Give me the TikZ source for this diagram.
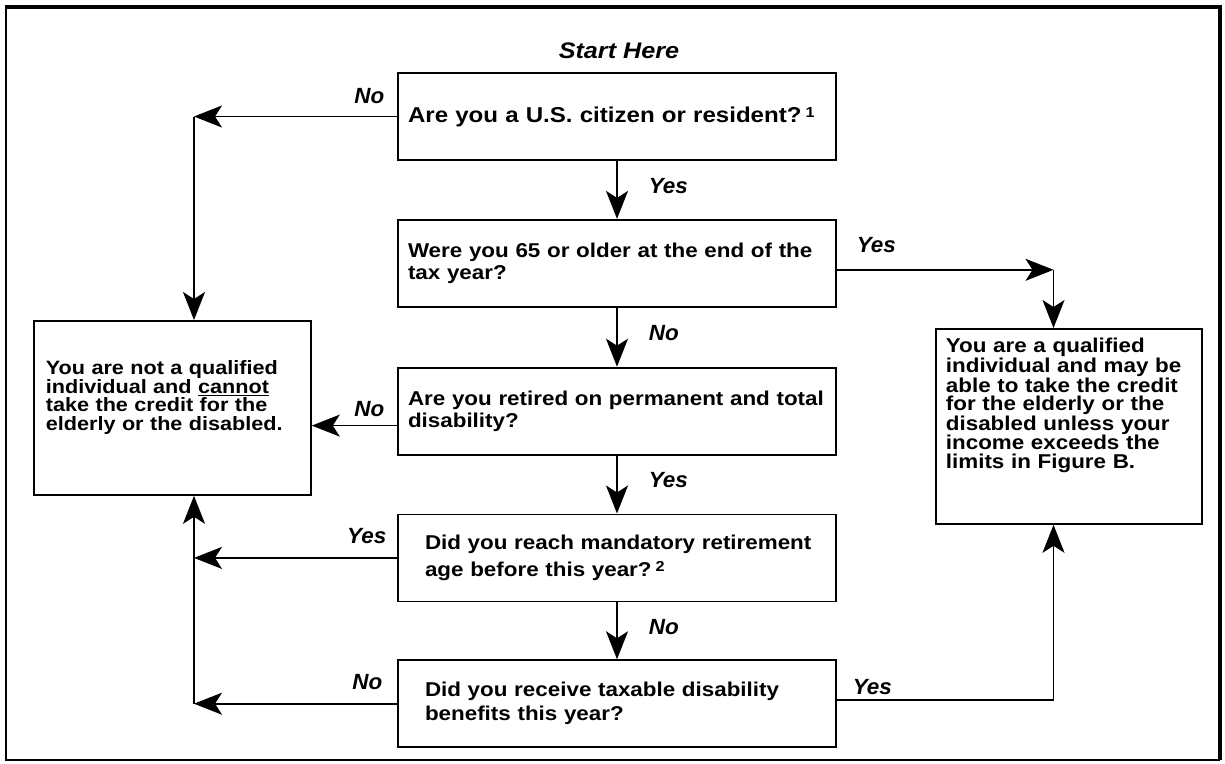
\documentclass[tikz,border=0pt]{standalone}
\usepackage{fontspec}
\newfontfamily\chartfont{Liberation Sans}[FakeStretch=1.12]
\newfontfamily\answerfont{Liberation Sans}[FakeStretch=1.02]
\usetikzlibrary{positioning, arrows.meta}
\newcommand{\fnref}[1]{\hspace{4pt}\raisebox{5pt}{\fontsize{14.5}{14.5}\selectfont #1}}
\tikzset{
    x=1pt, y=-1pt, % picture pixels, y runs downwards
    node distance=58pt, % gap between two question boxes
    question/.style={ % the boxes of the middle column
        draw, line width=1.8pt,
        minimum width=438pt, minimum height=87pt,
        inner xsep=10pt, text width=418pt, align=left,
        font=\chartfont\bfseries\fontsize{20}{22}\selectfont
    },
    verdict/.style={ % the two outcome boxes
        draw, line width=1.8pt, align=left,
        anchor=north west, text height=14pt,
        font=\chartfont\bfseries\fontsize{20}{18.5}\selectfont
    },
    answer/.style={ % Yes / No next to the arrows
        inner sep=0pt,
        font=\answerfont\bfseries\itshape\fontsize{22}{22}\selectfont
    },
    flow/.style={ % the connectors
        ->, >={Stealth[length=28pt,width=22pt,inset=7pt]},
        line width=1.7pt
    }
}
\begin{document}
\begin{tikzpicture}
    \useasboundingbox (0,0) rectangle (1225,763);
    % frame
    \draw[line width=1.5pt] (1220,760) -- (6,760) -- (6,7);
    \draw[line width=4pt] (5,7) -- (1220,7) -- (1220,760);

    % middle column
    \node[answer, anchor=base, font=\chartfont\bfseries\itshape\fontsize{22.5}{22.5}\selectfont]
                                    (start) at (619,58) {Start Here};
    \node[question, font=\chartfont\bfseries\fontsize{21.5}{22}\selectfont]
                                    (q1) at (617,116.5)
        {Are you a U.S. citizen or resident?\fnref{1}};
    \node[question, below=of q1]    (q2)
        {Were you 65 or older at the end of the\\tax year?};
    \node[question, below=59pt of q2] (q3)
        {Are you retired on permanent and total\\disability?};
    \node[question, below=of q3, inner xsep=27pt, text width=384pt,
          font=\chartfont\bfseries\fontsize{20}{27}\selectfont] (q4)
        {\mbox{Did you reach mandatory retirement}\\age before this year?\fnref{2}};
    \node[question, below=57pt of q4, inner xsep=27pt, text width=384pt,
          font=\chartfont\bfseries\fontsize{20}{24}\selectfont] (q5)
        {Did you receive taxable disability\\benefits this year?};

    % outcome boxes
    \node[verdict, inner xsep=12pt, inner ysep=40pt, text width=253pt, text depth=80pt,
          font=\chartfont\bfseries\fontsize{19.3}{18.5}\selectfont]
                                    (nq) at (33,320)
        {You are not a qualified\\individual and \underline{cannot}\\take the credit for the\\elderly or the disabled.};
    \node[verdict, inner xsep=10pt, inner ysep=10pt, text width=246pt, text depth=161pt]
                                    (qual) at (935,328)
        {You are a qualified\\individual and may be\\able to take the credit\\for the elderly or the\\disabled unless your\\income exceeds the\\limits in Figure B.};

    % rails at the sides
    \coordinate (leftrail)  at (194,0);
    \coordinate (rightrail) at (1053.5,0);

    % down the middle
    \draw[flow] (q1) -- node[answer, anchor=west, xshift=31pt, yshift=4pt] {Yes} (q2);
    \draw[flow] (q2) -- node[answer, anchor=west, xshift=31pt, yshift=4pt] {No}  (q3);
    \draw[flow] (q3) -- node[answer, anchor=west, xshift=31pt, yshift=4pt] {Yes} (q4);
    \draw[flow] (q4) -- node[answer, anchor=west, xshift=31pt, yshift=4pt] {No}  (q5);

    % to the left
    \draw[flow] (q1.west) -- node[answer, pos=0, anchor=south east, xshift=-12pt, yshift=12pt] {No}
                (q1.west -| leftrail);
    \draw[flow] (q1.west -| leftrail) -- (nq.north -| leftrail);
    \draw[flow] ([yshift=-14.5pt]q3.west) -- node[answer, pos=0, anchor=south east, xshift=-12pt, yshift=8pt] {No}
                ([yshift=-14.5pt]q3.west -| nq.east);
    \draw[flow] (q4.west) -- node[answer, pos=0, anchor=south east, xshift=-10pt, yshift=13pt] {Yes}
                (q4.west -| leftrail);
    \draw[flow] (q5.west) -- node[answer, pos=0, anchor=south east, xshift=-14pt, yshift=13pt] {No}
                (q5.west -| leftrail);
    \draw[flow] (q5.west -| leftrail) -- (nq.south -| leftrail);

    % to the right
    \draw[flow] ([yshift=-6.5pt]q2.east) -- node[answer, pos=0, anchor=south west, xshift=19pt, yshift=16pt] {Yes}
                ([yshift=-6.5pt]q2.east -| rightrail);
    \draw[flow] ([yshift=-6.5pt]q2.east -| rightrail) -- (qual.north -| rightrail);
    \draw[flow] ([yshift=3.5pt]q5.east) -- node[answer, pos=0, anchor=south west, xshift=15pt, yshift=5pt] {Yes}
                ([yshift=3.5pt]q5.east -| rightrail) -- (qual.south -| rightrail);
\end{tikzpicture}
\end{document}
